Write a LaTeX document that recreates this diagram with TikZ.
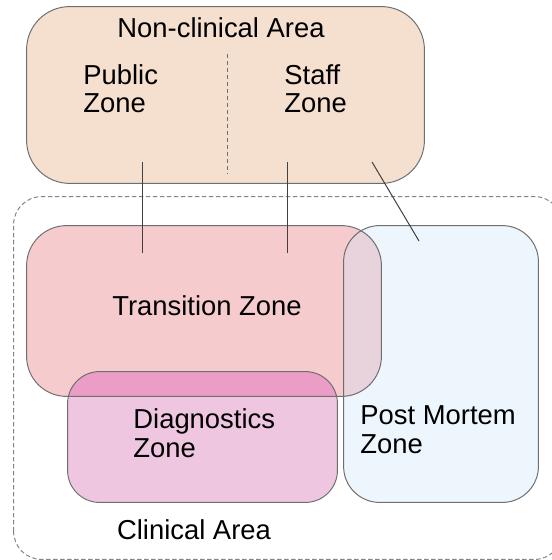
\documentclass[tikz,border=0pt]{standalone}
\usepackage{fontspec}
\setmainfont{Liberation Sans}
\definecolor{peach}{RGB}{245,223,207}
\definecolor{transpink}{RGB}{246,203,206}
\definecolor{pmblue}{RGB}{238,246,253}
\definecolor{diagpink}{RGB}{238,198,224}
\definecolor{tdpink}{RGB}{236,157,197}
\definecolor{tppink}{RGB}{232,210,220}
\definecolor{edge}{RGB}{110,110,110}
\begin{document}
\begin{tikzpicture}[x=0.5pt, y=-0.5pt,
  zone/.style={inner sep=0pt, minimum width=#1},
  lbl/.style={inner sep=0pt, align=left, font=\fontsize{13.7pt}{14.2pt}\selectfont},
  wire/.style={draw=black!75, line width=0.5pt},
  rim/.style={draw=edge, line width=0.5pt}]
\useasboundingbox (0,0) rectangle (551,560);
% areas
\node[zone=198.5pt, minimum height=88pt, fill=peach, rounded corners=21.5pt] (nonclin) at (225.5,95){};
\node[zone=274pt, minimum height=181pt, rounded corners=14pt] (clin) at (288,378){};
\node[zone=177pt, minimum height=85pt, fill=transpink, rounded corners=20pt] (trans) at (204,311){};
\node[zone=97pt, minimum height=138pt, fill=pmblue, rounded corners=18pt] (postm) at (441,364){};
\node[zone=134.5pt, minimum height=65pt, fill=diagpink, rounded corners=16pt] (diag) at (202.5,437){};
% overlaps
\begin{scope}
\clip[rounded corners=20pt] (trans.south west) rectangle (trans.north east);
\fill[tdpink, rounded corners=16pt] (diag.south west) rectangle (diag.north east);
\fill[tppink, rounded corners=18pt] (postm.south west) rectangle (postm.north east);
\end{scope}
% outlines
\draw[rim, rounded corners=21.5pt] (nonclin.south west) rectangle (nonclin.north east);
\draw[rim, draw=edge!85, dash pattern=on 2.2pt off 1.3pt, rounded corners=14pt] (clin.south west) rectangle (clin.north east);
\draw[rim, rounded corners=20pt] (trans.south west) rectangle (trans.north east);
\draw[rim, rounded corners=18pt] (postm.south west) rectangle (postm.north east);
\draw[rim, rounded corners=16pt] (diag.south west) rectangle (diag.north east);
% labels (base = last line)
\node[lbl, anchor=base] (nonclinlbl) at (221,38){Non-clinical Area};
\node[lbl, anchor=base west] (public) at (83,113){Public\\Zone};
\node[lbl, anchor=base west] (staff) at (284,113){Staff\\Zone};
\node[lbl, anchor=base] (translbl) at (207,315){Transition Zone};
\node[lbl, anchor=base west] (diaglbl) at (133,457){Diagnostics\\Zone};
\node[lbl, anchor=base west] (postmlbl) at (360,453){Post Mortem\\Zone};
\node[lbl, anchor=base] (clinlbl) at (194,539){Clinical Area};
% divider and links
\coordinate (divtop) at (227,54);
\coordinate (divbot) at (227,174);
\draw[rim, dash pattern=on 2.2pt off 1.3pt](divtop) -- (divbot);
\coordinate (pubout) at (142,162);
\coordinate (pubin) at (142,253);
\coordinate (staffout) at (287,162);
\coordinate (staffin) at (287,253);
\coordinate (pmout) at (372,162);
\coordinate (pmin) at (419,241);
\draw[wire](pubout) -- (pubin);
\draw[wire](staffout) -- (staffin);
\draw[wire](pmout) -- (pmin);
\end{tikzpicture}
\end{document}
